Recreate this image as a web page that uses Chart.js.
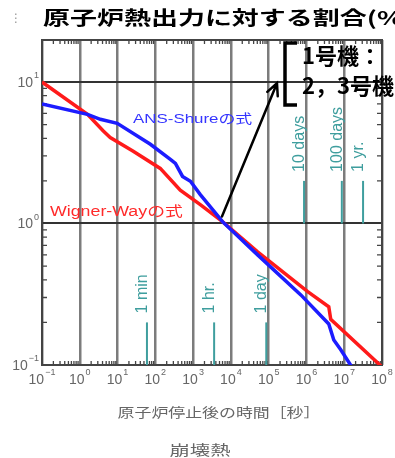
<!DOCTYPE html>
<html lang="ja">
<head>
<meta charset="utf-8">
<title>崩壊熱</title>
<script src="https://cdn.jsdelivr.net/npm/chart.js@4"></script>
<style>
  body { margin: 0; background: #fff; }
  #grafico { display: block; }
</style>
</head>
<body>
<canvas id="grafico" width="395" height="458"></canvas>
<script>
// Tempo após a parada do reator [s] e fração do calor (%)
const tempoWigner = [0.1, 1.6, 4.2, 6.4, 26, 135, 457, 1550, 6000, 51000, 1.08e6, 3.9e6, 4.4e6, 1e8];
const wignerWay = [10, 5.9, 4.5, 4.05, 3.24, 2.45, 1.72, 1.36, 1.03, 0.63, 0.33, 0.258, 0.21, 0.097];

const tempoAns = [0.1, 1.6, 3.5, 9.8, 74, 250, 340, 525, 850, 1550, 6000, 51000, 7.1e5, 3.9e6, 5.3e6, 8.1e6, 1.8e7];
const ansShure = [7.0, 5.9, 5.45, 5.1, 3.63, 2.84, 2.66, 2.15, 1.99, 1.6, 1.03, 0.6, 0.313, 0.195, 0.15, 0.128, 0.092];

// Marcas de tempo (1 min, 1 hr., ...)
const marcasTexto = ['1 min', '1 hr.', '1 day', '10 days', '100 days', '1 yr.'];
const marcasSegundos = [60, 3600, 86400, 864000, 8640000, 31536000];
const marcasBase = [0.1, 0.1, 0.1, 1, 1, 1];
const marcasTopo = [0.2, 0.2, 0.2, 2, 2, 2];

// Expoentes dos rótulos dos eixos
const expoentesX = [-1, 0, 1, 2, 3, 4, 5, 6, 7, 8];
const expoentesY = [-1, 0, 1];

// Seta do texto "1号機" até o cruzamento das curvas
const setaInicio = [5800, 1.12];
const setaFim = [1.66e5, 9.8];

const TEAL = '#3f9e9e';
const CINZA = '#666';

function pontos(xs, ys) {
  return xs.map((x, i) => ({ x: x, y: ys[i] }));
}

const datasets = [
  { data: pontos(tempoAns, ansShure), borderColor: '#1c1cff', borderWidth: 3.5, order: 0 },
  { data: pontos(tempoWigner, wignerWay), borderColor: '#ff1a1a', borderWidth: 3.5, order: 1 }
];
marcasSegundos.forEach((t, i) => {
  datasets.push({
    data: [{ x: t, y: marcasBase[i] }, { x: t, y: marcasTopo[i] }],
    borderColor: TEAL, borderWidth: 2, order: 2
  });
});

// Escreve "10" com o expoente
function potencia(ctx, e, x, y, alinhar) {
  ctx.font = '14px "Liberation Sans"';
  const base = ctx.measureText('10').width;
  const txtE = e < 0 ? '\u2212' + Math.abs(e) : String(e);
  ctx.font = '9px "Liberation Sans"';
  const larguraE = ctx.measureText(txtE).width;
  const total = base + larguraE + 1;
  let x0 = alinhar === 'right' ? x - total : x - total / 2;
  ctx.fillStyle = CINZA;
  ctx.textAlign = 'left';
  ctx.textBaseline = 'middle';
  ctx.font = '14px "Liberation Sans"';
  ctx.fillText('10', x0, y);
  ctx.font = '9px "Liberation Sans"';
  ctx.fillText(txtE, x0 + base + 1, y - 7);
}

function textoEsticado(ctx, texto, x, y, escala, alinhar) {
  ctx.save();
  ctx.translate(x, y);
  ctx.scale(escala, 1);
  ctx.textAlign = alinhar;
  ctx.fillText(texto, 0, 0);
  ctx.restore();
}

const desenhos = {
  id: 'desenhos',
  beforeDatasetsDraw(chart) {
    const ctx = chart.ctx;
    const a = chart.chartArea;
    const sx = chart.scales.x, sy = chart.scales.y;
    ctx.save();
    // pequenas marcas (2..9) nas bordas
    ctx.strokeStyle = '#444';
    ctx.lineWidth = 1.3;
    ctx.beginPath();
    for (let e = -1; e < 8; e++) {
      for (let m = 2; m <= 9; m++) {
        const px = sx.getPixelForValue(m * Math.pow(10, e));
        ctx.moveTo(px, a.bottom); ctx.lineTo(px, a.bottom - 4);
        ctx.moveTo(px, a.top); ctx.lineTo(px, a.top + 4);
      }
    }
    for (let e = -1; e < 2; e++) {
      for (let m = 2; m <= 9; m++) {
        const v = m * Math.pow(10, e);
        if (v > sy.max) continue;
        const py = sy.getPixelForValue(v);
        ctx.moveTo(a.left, py); ctx.lineTo(a.left + 5, py);
        ctx.moveTo(a.right, py); ctx.lineTo(a.right - 5, py);
      }
    }
    ctx.stroke();
    // moldura
    ctx.strokeStyle = '#444';
    ctx.lineWidth = 2;
    ctx.strokeRect(a.left, a.top, a.right - a.left, a.bottom - a.top);
    ctx.restore();
  },
  afterDatasetsDraw(chart) {
    const ctx = chart.ctx;
    const a = chart.chartArea;
    const sx = chart.scales.x, sy = chart.scales.y;
    ctx.save();

    // rótulos dos eixos
    expoentesX.forEach(e => potencia(ctx, e, sx.getPixelForValue(Math.pow(10, e)), a.bottom + 15, 'center'));
    expoentesY.forEach(e => potencia(ctx, e, a.left - 3, sy.getPixelForValue(Math.pow(10, e)) + 1, 'right'));

    // textos das marcas de tempo (verticais)
    ctx.fillStyle = TEAL;
    ctx.font = '16px "Liberation Sans"';
    ctx.textBaseline = 'alphabetic';
    marcasTexto.forEach((txt, i) => {
      const px = sx.getPixelForValue(marcasSegundos[i]);
      const py = sy.getPixelForValue(marcasTopo[i]) - 9;
      ctx.save();
      ctx.translate(px, py);
      ctx.rotate(-Math.PI / 2);
      ctx.textAlign = 'left';
      ctx.fillText(txt, 0, 0);
      ctx.restore();
    });

    // nomes das curvas
    ctx.textBaseline = 'middle';
    ctx.fillStyle = '#3434ff';
    ctx.font = '13px "Liberation Sans", "Noto Sans CJK JP"';
    textoEsticado(ctx, 'ANS-Shureの式', 133, 119, 1.3, 'left');
    ctx.fillStyle = '#ff2a2a';
    ctx.font = '14px "Liberation Sans", "Noto Sans CJK JP"';
    textoEsticado(ctx, 'Wigner-Wayの式', 50, 212, 1.27, 'left');

    // seta
    const x1 = sx.getPixelForValue(setaInicio[0]), y1 = sy.getPixelForValue(setaInicio[1]);
    const x2 = sx.getPixelForValue(setaFim[0]), y2 = sy.getPixelForValue(setaFim[1]);
    const ang = Math.atan2(y2 - y1, x2 - x1);
    ctx.strokeStyle = '#000';
    ctx.lineWidth = 2.5;
    ctx.lineCap = 'round';
    ctx.beginPath();
    ctx.moveTo(x1, y1); ctx.lineTo(x2, y2);
    ctx.moveTo(x2 - 13 * Math.cos(ang - 0.45), y2 - 13 * Math.sin(ang - 0.45));
    ctx.lineTo(x2, y2);
    ctx.lineTo(x2 - 13 * Math.cos(ang + 0.45), y2 - 13 * Math.sin(ang + 0.45));
    ctx.stroke();

    // colchete e textos dos reatores
    ctx.lineWidth = 3.5;
    ctx.lineCap = 'butt';
    ctx.beginPath();
    ctx.moveTo(297, 43); ctx.lineTo(285, 43); ctx.lineTo(285, 105); ctx.lineTo(297, 105);
    ctx.stroke();
    ctx.fillStyle = '#000';
    ctx.font = 'bold 22px "Noto Sans CJK JP"';
    ctx.textAlign = 'left';
    ctx.fillText('1号機：', 302, 56);
    ctx.fillText('2，3号機', 302, 86);

    // título
    ctx.font = 'bold 19px "Noto Sans CJK JP"';
    textoEsticado(ctx, '原子炉熱出力に対する割合(%)', 43, 18, 1.42, 'left');
    ctx.fillStyle = '#999';
    ctx.font = '12px "DejaVu Sans"';
    textoEsticado(ctx, '\u22ee', 16, 19, 1, 'center');

    // títulos de baixo
    ctx.fillStyle = CINZA;
    ctx.font = '13px "Noto Sans CJK JP"';
    textoEsticado(ctx, '原子炉停止後の時間［秒］', 219, 412, 1.3, 'center');
    ctx.font = '14px "Noto Sans CJK JP"';
    textoEsticado(ctx, '崩壊熱', 200, 450, 1.45, 'center');

    ctx.restore();
  }
};

const ctx = document.getElementById('grafico').getContext('2d');
const grafico = new Chart(ctx, {
  type: 'line',
  data: { datasets: datasets },
  options: {
    responsive: false,
    animation: false,
    devicePixelRatio: 1,
    layout: { padding: { left: 42, top: 40, right: 13, bottom: 93 } },
    elements: { point: { radius: 0 }, line: { tension: 0 } },
    plugins: { legend: { display: false }, tooltip: { enabled: false } },
    scales: {
      x: {
        type: 'logarithmic', min: 0.1, max: 1e8,
        afterBuildTicks: s => { s.ticks = expoentesX.map(e => ({ value: Math.pow(10, e) })); },
        afterFit: s => { s.height = 0; },
        ticks: { display: false },
        grid: { color: '#7c7c7c', lineWidth: 2.5, drawTicks: false },
        border: { display: false }
      },
      y: {
        type: 'logarithmic', min: 0.1, max: 19.8,
        afterBuildTicks: s => { s.ticks = expoentesY.map(e => ({ value: Math.pow(10, e) })); },
        afterFit: s => { s.width = 0; },
        ticks: { display: false },
        grid: { color: '#333', lineWidth: 2, drawTicks: false },
        border: { display: false }
      }
    }
  },
  plugins: [desenhos]
});
</script>
</body>
</html>
